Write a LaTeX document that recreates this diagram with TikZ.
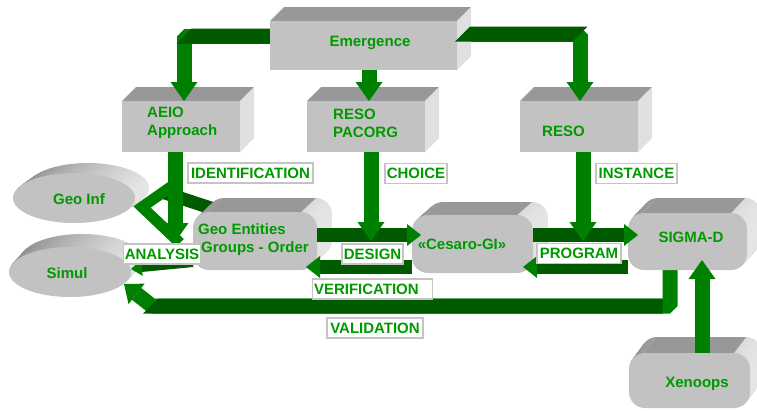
\documentclass[tikz,border=0pt]{standalone}
\usepackage{fontspec}
\setmainfont{Liberation Sans}
\usetikzlibrary{arrows.meta,calc}

\definecolor{agreen}{RGB}{0,128,0}
\definecolor{atop}{RGB}{0,90,0}
\definecolor{tgreen}{RGB}{0,153,0}
\definecolor{bfront}{RGB}{194,194,194}
\definecolor{btop}{RGB}{152,152,152}
\definecolor{bside}{RGB}{224,224,224}
\definecolor{lrule}{RGB}{196,196,196}

% cuboid: top face, right face, front face of a frame node
\newcommand\drawcuboid[3]{%
  \fill[btop] (#1.north west) -- ++(#2,#3) -- ([shift={(#2,#3)}]#1.north east) -- (#1.north east) -- cycle;
  \fill[bside] (#1.north east) -- ++(#2,#3) -- ([shift={(#2,#3)}]#1.south east) -- (#1.south east) -- cycle;
  \fill[bfront] (#1.south west) rectangle (#1.north east);}

% rounded slab swept back along (dx,dy)
\newcommand\drawslab[4]{%
  \foreach \k in {20,...,1}{%
    \shade[left color=black!42, right color=black!10, rounded corners=#4]
      ([shift={({#2*\k/20},{#3*\k/20})}]#1.south west) rectangle ([shift={({#2*\k/20},{#3*\k/20})}]#1.north east);
  }%
  \fill[btop] ([xshift=#4]#1.north west) -- ++(#2,#3) -- ([shift={(#2,#3)},xshift=-#4]#1.north east) -- ([xshift=-#4]#1.north east) -- cycle;
  \fill[bfront, rounded corners=#4] (#1.south west) rectangle (#1.north east);}

% elliptic disc swept back along (dx,dy)
\newcommand\drawdisc[5]{%
  \foreach \k in {20,...,1}{%
    \shade[left color=black!45, right color=black!10]
      ([shift={({#2*\k/20},{#3*\k/20})}]#1.center) ellipse [x radius=#4, y radius=#5];
  }%
  \fill[bfront] (#1.center) ellipse [x radius=#4, y radius=#5];}

\begin{document}
\begin{tikzpicture}[x=1pt,y=-1pt,
  frame/.style={inner sep=0pt, outer sep=0pt, anchor=north west},
  txt/.style={text=tgreen, font=\fontsize{15}{18}\selectfont\bfseries, inner sep=0pt, align=left},
  flowlabel/.style={draw=lrule, line width=1.4pt, fill=white, text=tgreen,
    font=\fontsize{15}{18}\selectfont\bfseries, inner sep=1.5pt, minimum height=20pt},
  flowv/.style={draw=agreen, line width=15pt, line join=bevel,
    -{Triangle[width=27pt,length=19pt,line width=0pt]}},
  flowh/.style={draw=atop, line width=14pt,
    -{Triangle[width=22pt,length=14pt,line width=0pt,color=agreen,fill=agreen]}},
]
\useasboundingbox (0,0) rectangle (757,410);
\fill[white] (0,0) rectangle (757,410);

% ---- frames of all boxes
\node[frame, minimum width=187pt, minimum height=49pt] (emer)   at (270,21)  {};
\node[frame, minimum width=118pt, minimum height=51pt] (aeio)   at (122,101) {};
\node[frame, minimum width=118pt, minimum height=51pt] (resop)  at (307,101) {};
\node[frame, minimum width=118pt, minimum height=51pt] (reso)   at (520,101) {};
\node[frame, minimum width=124pt, minimum height=58pt] (geoent) at (193,212) {};
\node[frame, minimum width=121pt, minimum height=58pt] (cesaro) at (412,215) {};
\node[frame, minimum width=119pt, minimum height=57pt] (sigma)  at (628,213) {};
\node[frame, minimum width=121pt, minimum height=55pt] (xeno)   at (629,353) {};
\node[frame, anchor=center, minimum width=122pt, minimum height=50pt] (geoinf) at (74,198) {};
\node[frame, anchor=center, minimum width=122pt, minimum height=50pt] (simul)  at (70,272) {};

% ---- bend points and free ends
\coordinate (k1) at (184,36);
\coordinate (k2) at (369,0);
\coordinate (k3) at (580,34);
\coordinate (d1) at (175,242);
\coordinate (d2) at (371,241);
\coordinate (d3) at (583,241);
\coordinate (yhi) at (0,235);
\coordinate (ylo) at (0,267);
\coordinate (v1) at (670,306);
\coordinate (v2) at (152,306);
\coordinate (v3) at (124,284);
\coordinate (xs) at (702,260);
\coordinate (an1) at (214,209);
\coordinate (an2) at (165,193);
\coordinate (ya) at (0,263);
\coordinate (yb) at (0,269);

% ---- second row of cuboids
\drawcuboid{aeio}{14}{-14}
\drawcuboid{resop}{14}{-14}
\drawcuboid{reso}{14}{-14}

% ---- flows out of Emergence
\draw[flowv] (emer.west |- k1) -| (aeio.north -| k1);
\fill[atop] (176.5,43.5) -- (191.5,28.5) -- (272,28.5) -- (272,43.5) -- cycle;
\draw[flowv] (emer.east |- k3) -| (reso.north -| k3);
\draw[flowv] (emer.south -| k2) -- (resop.north -| k2);

\drawcuboid{emer}{14}{-14}
\fill[atop] (455,41.5) -- (470,26.5) -- (587.5,26.5) -- (572.5,41.5) -- cycle;

% ---- discs
\drawdisc{geoinf}{14}{-10}{61pt}{25pt}
\drawdisc{simul}{12}{-13}{61pt}{25pt}

% ---- analysis flows leaving Geo Entities
\draw[atop, line width=13pt] (an1) -- (an2);
\draw[atop, line width=8pt,
  -{Triangle[width=16pt,length=11pt,line width=0pt,color=agreen,fill=agreen]}]
  (geoent.west |- ya) -- (simul.east |- yb);

% ---- validation loop from SIGMA-D back to Simul
\draw[flowv, -{Triangle[width=26pt,length=16pt,line width=0pt]}]
  (sigma.south -| v1) -- (v1) -- (v2) -- (v3);
\fill[atop] (143,313.5) -- (158,298.5) -- (662.5,298.5) -- (662.5,313.5) -- cycle;

% ---- third row and flows between its boxes
\drawslab{geoent}{15}{-14}{16pt}
\draw[flowh] (cesaro.west |- ylo) -- ([xshift=-11pt]geoent.east |- ylo);
\drawslab{cesaro}{15}{-13}{16pt}
\draw[flowh] (geoent.east |- yhi) -- ([xshift=9pt]cesaro.west |- yhi);
\draw[flowh] (sigma.west |- ylo) -- ([xshift=-10pt]cesaro.east |- ylo);
\drawslab{sigma}{14}{-15}{16pt}
\draw[flowh] (cesaro.east |- yhi) -- ([xshift=10pt]sigma.west |- yhi);
\drawslab{xeno}{12}{-16}{16pt}

% ---- chevron head of the analysis flow
\draw[agreen, line width=11pt, line join=miter] (172,186) -- (142,207) -- (180,243);

% ---- flows down from the second row
\draw[flowv] (aeio.south -| d1) -- (d1);
\draw[flowv] (resop.south -| d2) -- (d2);
\draw[flowv] (reso.south -| d3) -- (d3);

% ---- Xenoops up to SIGMA-D
\draw[flowv] (xeno.north -| xs) -- (xs);

% ---- box texts
\node[txt] (emer-t)   at (370,43)  {Emergence};
\node[txt, anchor=west] (aeio-t)  at (147,123) {AEIO\\Approach};
\node[txt, anchor=west] (resop-t) at (333,123) {RESO\\PACORG};
\node[txt, anchor=west] (reso-t)  at (542,131) {RESO};
\node[txt, anchor=west] (geoent-t) at (198,240) {Geo Entities\\\hspace*{3pt}Groups - Order};
\node[txt] (cesaro-t) at (462,244) {«Cesaro-GI»};
\node[txt] (sigma-t)  at (691,237) {SIGMA-D};
\node[txt] (xeno-t)   at (697,384) {Xenoops};
\node[txt] (geoinf-t) at (79,199)  {Geo Inf};
\node[txt] (simul-t)  at (67,273)  {Simul};

% ---- flow labels
\node[flowlabel, minimum width=125pt] (l-ident)   at (250.5,173) {IDENTIFICATION};
\node[flowlabel, minimum width=62pt]  (l-choice)  at (416,173.5) {CHOICE};
\node[flowlabel, minimum width=81pt]  (l-inst)    at (636.5,173.5) {INSTANCE};
\node[flowlabel, minimum width=61pt]  (l-design)  at (372.5,254) {DESIGN};
\node[flowlabel, minimum width=84pt]  (l-prog)    at (579,253.5) {PROGRAM};
\node[flowlabel, text width=117pt, align=left] (l-verif) at (372.5,289) {VERIFICATION};
\node[flowlabel, minimum width=96pt]  (l-valid)   at (375,328) {VALIDATION};
\node[flowlabel, minimum width=76pt]  (l-anal)    at (162,254) {ANALYSIS};
\end{tikzpicture}
\end{document}
